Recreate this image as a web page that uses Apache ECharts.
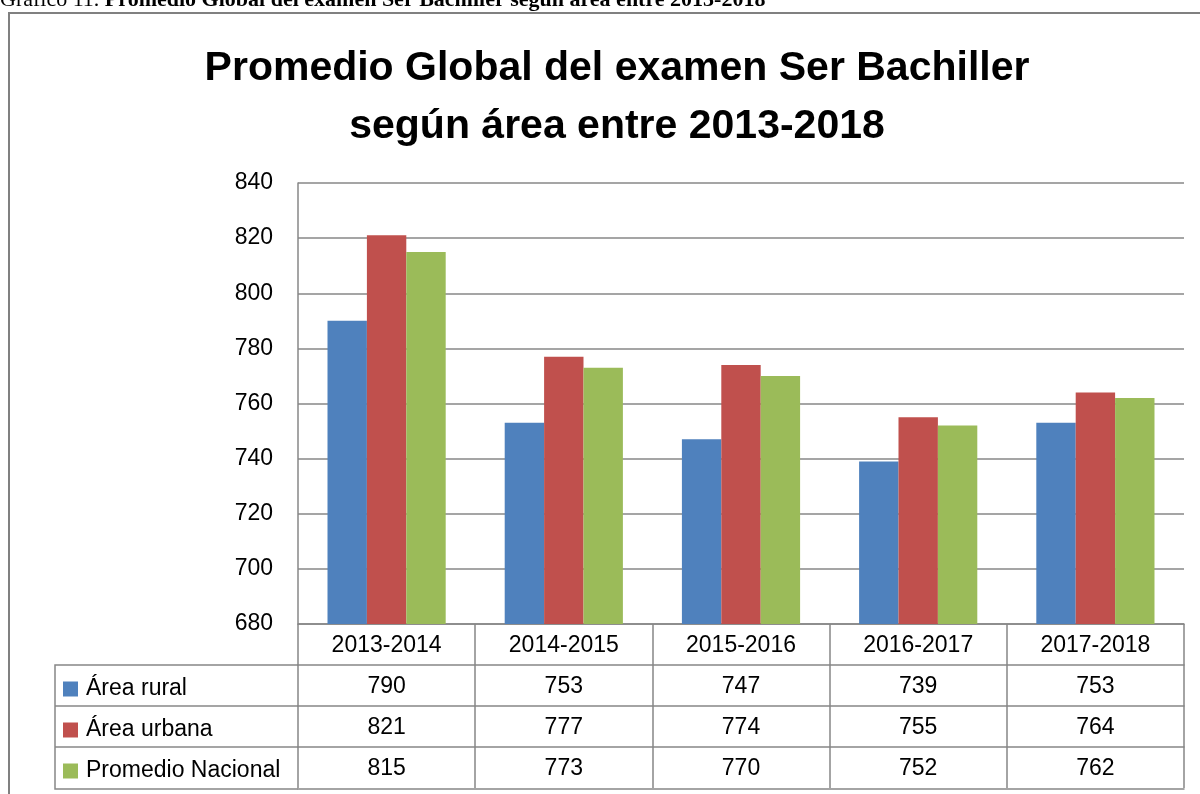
<!DOCTYPE html>
<html>
<head>
<meta charset="utf-8">
<script src="https://cdn.jsdelivr.net/npm/echarts@6/dist/echarts.min.js"></script>
<style>
  html, body { margin: 0; padding: 0; background: #fff; }
  #chart { width: 1200px; height: 794px; }
</style>
</head>
<body>
<div id="chart"></div>
<script>
const periods = ['2013-2014', '2014-2015', '2015-2016', '2016-2017', '2017-2018'];
const seriesNames = ['Área rural', 'Área urbana', 'Promedio Nacional'];
const rural = [790, 753, 747, 739, 753];
const urbana = [821, 777, 774, 755, 764];
const nacional = [815, 773, 770, 752, 762];
const colors = ['#4F81BD', '#C0504D', '#9BBB59'];

const font = 'Liberation Sans';
const gridColor = '#878787';
const rowH = 41;

const chart = echarts.init(document.getElementById('chart'));

// one category axis per table row; ticks at the boundaries draw the cell walls
const tableAxis = (data, offset, showLabel) => ({
  type: 'category',
  position: 'bottom',
  gridIndex: 0,
  data: data,
  offset: offset,
  boundaryGap: true,
  axisLine: { show: true, lineStyle: { color: gridColor, width: 1.5 } },
  axisTick: { show: showLabel, length: rowH, inside: false, alignWithLabel: false, lineStyle: { color: gridColor, width: 1.5 } },
  axisLabel: {
    show: showLabel, interval: 0, margin: 10, verticalAlign: 'top',
    color: '#000', fontFamily: font, fontSize: 23
  },
  splitLine: { show: false }
});

const option = {
  animation: false,
  color: colors,
  title: {
    text: 'Promedio Global del examen Ser Bachiller\nsegún área entre 2013-2018',
    left: 612,
    textAlign: 'center',
    top: 35,
    textStyle: { fontFamily: font, fontWeight: 'bold', fontSize: 41, lineHeight: 58, color: '#000' }
  },
  legend: {
    data: seriesNames,
    orient: 'vertical',
    left: 58,
    top: 672,
    itemWidth: 15,
    itemHeight: 15,
    itemGap: 17,
    icon: 'rect',
    textStyle: { fontFamily: font, fontSize: 23, color: '#000', height: 24, lineHeight: 24, padding: [0, 0, 0, 3] }
  },
  grid: { left: 298, right: 16, top: 183, bottom: 170 },
  xAxis: [
    tableAxis(periods, 0, true),
    tableAxis(rural, rowH, true),
    tableAxis(urbana, rowH * 2, true),
    tableAxis(nacional, rowH * 3, true),
    tableAxis(periods, rowH * 4 + 1, false)
  ],
  yAxis: {
    type: 'value',
    min: 680,
    max: 840,
    interval: 20,
    axisLine: { show: true, lineStyle: { color: gridColor, width: 1.5 } },
    axisTick: { show: false },
    axisLabel: { color: '#000', fontFamily: font, fontSize: 23, margin: 25 },
    splitLine: { lineStyle: { color: gridColor, width: 1.5 } }
  },
  series: [rural, urbana, nacional].map((vals, i) => ({
    name: seriesNames[i],
    type: 'bar',
    xAxisIndex: 0,
    data: vals,
    barGap: '0%',
    barCategoryGap: '33.3%',
    itemStyle: { color: colors[i] }
  })),
  graphic: [
    // outer frame of the figure
    { type: 'rect', shape: { x: 9, y: 13, width: 1220, height: 820 }, style: { fill: 'none', stroke: '#808080', lineWidth: 2 }, silent: true },
    // left column of the data table
    { type: 'polyline', shape: { points: [[298, 665], [55, 665], [55, 789], [298, 789]] }, style: { fill: 'none', stroke: gridColor, lineWidth: 1.5 } },
    { type: 'line', shape: { x1: 55, y1: 706, x2: 298, y2: 706 }, style: { stroke: gridColor, lineWidth: 1.5 } },
    { type: 'line', shape: { x1: 55, y1: 747, x2: 298, y2: 747 }, style: { stroke: gridColor, lineWidth: 1.5 } },
    // caption above the figure, cut by the page edge
    {
      type: 'text', left: 0, top: -11,
      style: {
        text: '{n|Gráfico 11. }{b|Promedio Global del examen Ser Bachiller según área entre 2013-2018}',
        rich: {
          n: { fontFamily: 'Liberation Serif', fontSize: 22, fill: '#000' },
          b: { fontFamily: 'Liberation Serif', fontSize: 22, fontWeight: 'bold', fill: '#000' }
        }
      }
    }
  ]
};

chart.setOption(option);
</script>
</body>
</html>
